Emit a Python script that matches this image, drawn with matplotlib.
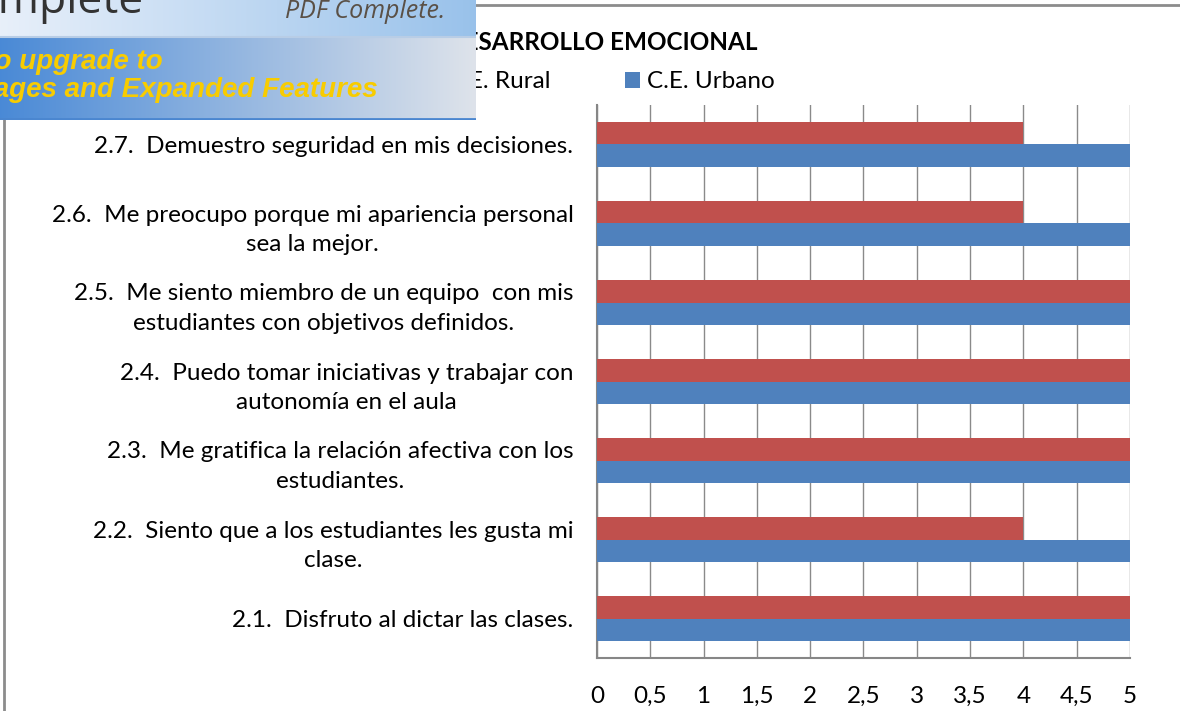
import numpy as np
import matplotlib.pyplot as plt
from matplotlib.patches import Rectangle

# datos
categorias = [
    "2.1.  Disfruto al dictar las clases.",
    "2.2.  Siento que a los estudiantes les gusta mi\nclase.",
    "2.3.  Me gratifica la relación afectiva con los\nestudiantes.",
    "2.4.  Puedo tomar iniciativas y trabajar con\nautonomía en el aula",
    "2.5.  Me siento miembro de un equipo  con mis\nestudiantes con objetivos definidos.",
    "2.6.  Me preocupo porque mi apariencia personal\nsea la mejor.",
    "2.7.  Demuestro seguridad en mis decisiones.",
]
rural = [5, 4, 5, 5, 5, 4, 4]
urbano = [5, 5, 5, 5, 5, 5, 5]
ticks = [0, 0.5, 1, 1.5, 2, 2.5, 3, 3.5, 4, 4.5, 5]
tick_labels = ["0", "0,5", "1", "1,5", "2", "2,5", "3", "3,5", "4", "4,5", "5"]

plt.rcParams['font.family'] = ['Lato', 'DejaVu Sans']

W, H = 1180, 711
fig = plt.figure(figsize=(W / 100, H / 100), dpi=100)

# borde del gráfico
fig.patches.append(Rectangle((4 / W, -0.1), 2, 1.1 - 5 / H, transform=fig.transFigure,
                             fill=False, edgecolor='#8c8c8c', lw=2))

ax = fig.add_axes([597 / W, 53 / H, 533 / W, 553 / H])
y = np.arange(len(categorias))
h = 0.28
ax.barh(y + h / 2, rural, h, color='#C0504D', label='C.E. Rural', zorder=3)
ax.barh(y - h / 2, urbano, h, color='#4F81BD', label='C.E. Urbano', zorder=3)

ax.set_xlim(0, 5)
ax.set_ylim(-0.5, len(categorias) - 0.5)
ax.set_xticks(ticks)
ax.set_xticklabels(tick_labels, fontsize=17.5)
ax.set_yticks(y)
ax.set_yticklabels(categorias, fontsize=17.5, multialignment='center', linespacing=1.5)
ax.tick_params(axis='x', length=0, pad=20)
ax.tick_params(axis='y', length=0, pad=17)
ax.grid(axis='x', color='#8a8a8a', lw=1, zorder=0)
for s in ['top', 'right']:
    ax.spines[s].set_visible(False)
for s in ['left', 'bottom']:
    ax.spines[s].set_color('#868686')
    ax.spines[s].set_linewidth(1.5)

fig.text(757 / W, 1 - 42 / H, 'DESARROLLO EMOCIONAL', fontsize=17.5, fontweight='bold',
         ha='right', va='center')
fig.legend(loc='center right', bbox_to_anchor=(775 / W, 1 - 82 / H), ncol=2, frameon=False,
           fontsize=17.5, handlelength=0.6, handleheight=0.6, handletextpad=0.3,
           columnspacing=3.1, borderaxespad=0, borderpad=0)

# banner de PDF Complete
bx = fig.add_axes([0, 1 - 120 / H, 476 / W, 120 / H])
bx.set_zorder(10)
bx.set_xlim(0, 476)
bx.set_ylim(120, 0)
bx.axis('off')
g = np.linspace(0, 1, 256)
top = np.array([0.91, 0.94, 0.98])[None, :] * (1 - g[:, None]) + np.array([0.60, 0.76, 0.92])[None, :] * g[:, None]
bot = np.array([0.29, 0.54, 0.84])[None, :] * (1 - g[:, None]) + np.array([0.87, 0.89, 0.92])[None, :] * g[:, None]
bx.imshow(top[None, :, :], extent=(0, 476, 37, 0), aspect='auto')
bx.imshow(bot[None, :, :], extent=(0, 476, 120, 37), aspect='auto')
bx.axhline(37, color='#b8cde6', lw=1.5)
bx.axhline(119, color='#4a86d0', lw=2)
bx.text(143, 13, 'Complete', fontsize=32, color='#333333', ha='right', va='baseline',
        family=['Open Sans', 'DejaVu Sans'])
bx.text(445, 12, 'PDF Complete.', fontsize=18, color='#5a5046', ha='right', va='center',
        style='italic', family=['Open Sans', 'DejaVu Sans'])
bx.text(163, 62, 'Click Here to upgrade to', fontsize=20, color='#f8cc00', ha='right',
        va='center', style='italic', fontweight='bold', family=['Liberation Sans'])
bx.text(378, 90, 'Unlimited Pages and Expanded Features', fontsize=20, color='#f8cc00',
        ha='right', va='center', style='italic', fontweight='bold', family=['Liberation Sans'])

fig.savefig('out.png', dpi=100)
